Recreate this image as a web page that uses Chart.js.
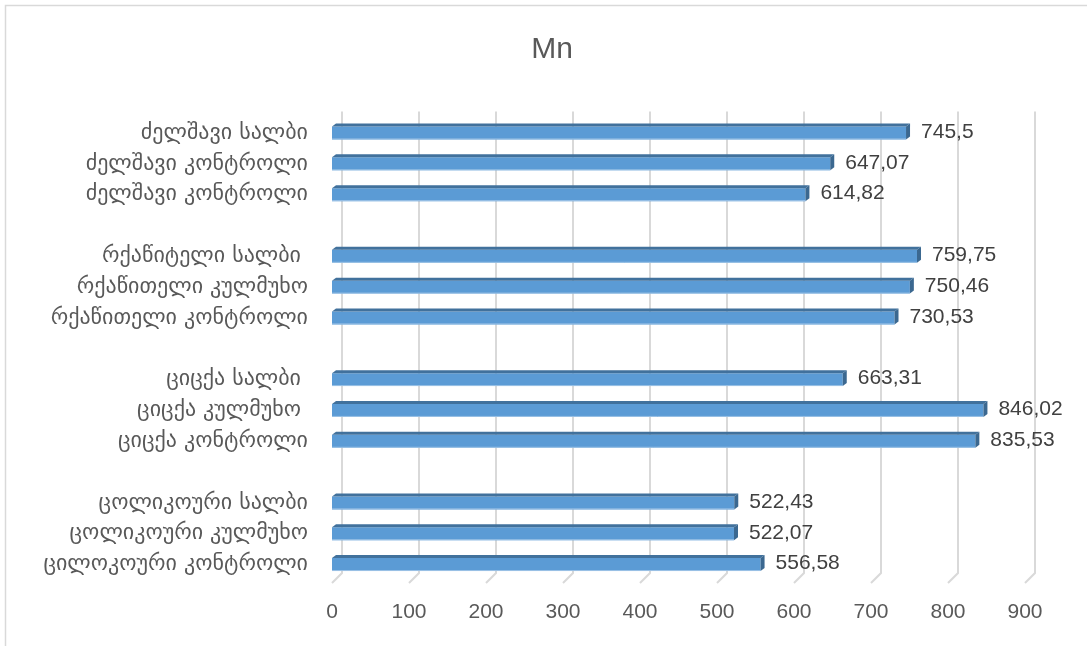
<!DOCTYPE html>
<html>
<head>
<meta charset="utf-8">
<script src="https://cdn.jsdelivr.net/npm/chart.js@4"></script>
<style>
  html, body { margin: 0; padding: 0; background: #fff; }
  #wrap { width: 1087px; height: 646px; }
</style>
</head>
<body>
<div id="wrap"><canvas id="mnChart" width="1087" height="646"></canvas></div>
<script>
// categories top to bottom, empty strings are the gaps between groups
const categories = [
    'ძელშავი სალბი',
    'ძელშავი კონტროლი',
    'ძელშავი კონტროლი',
    '',
    'რქაწიტელი სალბი ',
    'რქაწითელი კულმუხო',
    'რქაწითელი კონტროლი',
    '',
    'ციცქა სალბი ',
    'ციცქა კულმუხო ',
    'ციცქა კონტროლი',
    '',
    'ცოლიკოური სალბი',
    'ცოლიკოური კულმუხო',
    'ცილოკოური კონტროლი'
];
const mnValues = [745.5, 647.07, 614.82, null, 759.75, 750.46, 730.53, null, 663.31, 846.02, 835.53, null, 522.43, 522.07, 556.58];
const xTicks = [0, 100, 200, 300, 400, 500, 600, 700, 800, 900];
const chartTitle = 'Mn';

const barColor = '#5B9BD5';
const barTop = '#41719C';
const barSide = '#3B6890';
const gridColor = '#D9D9D9';
const numFont = '"Liberation Sans", Arial, sans-serif';

// white background, chart frame and the title (centred like Excel does it)
const backgroundPlugin = {
    id: 'background',
    beforeDraw(chart) {
        const ctx = chart.ctx;
        ctx.save();
        ctx.fillStyle = '#fff';
        ctx.fillRect(0, 0, chart.width, chart.height);
        ctx.strokeStyle = gridColor;
        ctx.lineWidth = 1.5;
        ctx.beginPath();
        ctx.moveTo(5.5, chart.height);
        ctx.lineTo(5.5, 5.5);
        ctx.lineTo(chart.width, 5.5);
        ctx.stroke();

        ctx.fillStyle = '#595959';
        ctx.font = '30px ' + numFont;
        ctx.textAlign = 'center';
        ctx.textBaseline = 'middle';
        ctx.fillText(chartTitle, 552, 50);
        ctx.restore();
    }
};

// back wall grid lines with the little floor segment, like Excel 3D bars
const wallGridPlugin = {
    id: 'wallGrid',
    beforeDatasetsDraw(chart) {
        const ctx = chart.ctx;
        const xScale = chart.scales.x;
        const area = chart.chartArea;
        ctx.save();
        ctx.strokeStyle = gridColor;
        ctx.lineWidth = 2;
        xTicks.forEach(v => {
            const px = xScale.getPixelForValue(v);
            ctx.beginPath();
            ctx.moveTo(px + 10, area.top - 6);
            ctx.lineTo(px + 10, area.bottom - 7);
            ctx.lineTo(px, area.bottom + 3);
            ctx.stroke();
        });
        ctx.restore();
    }
};

// top and end faces of the bars, then the value labels
const bar3dPlugin = {
    id: 'bar3d',
    afterDatasetsDraw(chart) {
        const ctx = chart.ctx;
        const meta = chart.getDatasetMeta(0);
        const depth = 4;
        const rise = 3;
        ctx.save();
        meta.data.forEach((bar, i) => {
            const value = mnValues[i];
            if (value === null) return;
            const { x, y, base, height } = bar.getProps(['x', 'y', 'base', 'height'], true);
            const top = y - height / 2;
            const bottom = y + height / 2;

            ctx.fillStyle = barTop;
            ctx.beginPath();
            ctx.moveTo(base, top);
            ctx.lineTo(base + depth, top - rise);
            ctx.lineTo(x + depth, top - rise);
            ctx.lineTo(x, top);
            ctx.closePath();
            ctx.fill();

            ctx.fillStyle = barSide;
            ctx.beginPath();
            ctx.moveTo(x, top);
            ctx.lineTo(x + depth, top - rise);
            ctx.lineTo(x + depth, bottom - rise);
            ctx.lineTo(x, bottom);
            ctx.closePath();
            ctx.fill();

            ctx.strokeStyle = '#9DC3E6';
            ctx.lineWidth = 1;
            ctx.beginPath();
            ctx.moveTo(base, bottom - 0.5);
            ctx.lineTo(x, bottom - 0.5);
            ctx.stroke();

            ctx.fillStyle = '#404040';
            ctx.font = '21px ' + numFont;
            ctx.textAlign = 'left';
            ctx.textBaseline = 'middle';
            ctx.fillText(String(value).replace('.', ','), x + depth + 11, y - 1);
        });
        ctx.restore();
    }
};

const ctx = document.getElementById('mnChart').getContext('2d');
new Chart(ctx, {
    type: 'bar',
    data: {
        labels: categories,
        datasets: [{
            label: 'Mn',
            data: mnValues,
            backgroundColor: barColor,
            borderWidth: 0,
            barPercentage: 0.42,
            categoryPercentage: 1
        }]
    },
    options: {
        indexAxis: 'y',
        responsive: false,
        animation: false,
        layout: {
            padding: { left: 0, right: 62, top: 117.6, bottom: 0 }
        },
        plugins: {
            legend: { display: false },
            tooltip: { enabled: false },
            title: { display: false }
        },
        scales: {
            x: {
                min: 0,
                max: 900,
                ticks: {
                    stepSize: 100,
                    color: '#595959',
                    padding: 20,
                    font: { family: numFont, size: 21 }
                },
                grid: { display: false, drawTicks: false },
                border: { display: false },
                afterFit(scale) { scale.height = 66; }
            },
            y: {
                ticks: {
                    autoSkip: false,
                    color: '#595959',
                    padding: 24,
                    font: { family: '"DejaVu Sans", sans-serif', size: 22 }
                },
                grid: { display: false, drawTicks: false },
                border: { display: false },
                afterFit(scale) { scale.width = 332; }
            }
        }
    },
    plugins: [backgroundPlugin, wallGridPlugin, bar3dPlugin]
});
</script>
</body>
</html>
